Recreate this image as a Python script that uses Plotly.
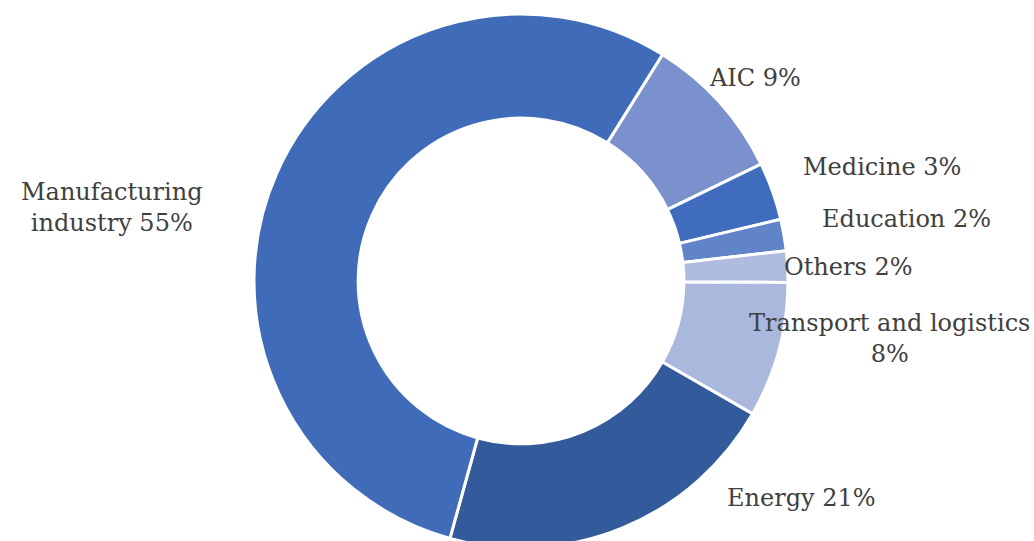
import plotly.graph_objects as go

labels = ["AIC", "Medicine", "Education", "Others", "Transport and logistics", "Energy", "Manufacturing industry"]
values = [8.9, 3.5, 1.9, 1.9, 8.2, 21.0, 54.6]
label_text = ["AIC 9%", "Medicine 3%", "Education 2%", "Others 2%",
              "Transport and logistics<br>8%", "Energy 21%", "Manufacturing<br>industry 55%"]
colors = ["#7A91CE", "#3F6CBC", "#6183C8", "#AFBBDF", "#ABB8DE", "#335A9A", "#3F6BB8"]

W, H = 1034, 553
cx, cy, r = 521, 281, 267

fig = go.Figure(go.Pie(
    labels=labels, values=values, hole=0.61, sort=False, direction="clockwise",
    rotation=32, textinfo="none", marker=dict(colors=colors, line=dict(color="white", width=3)),
    domain=dict(x=[(cx - r) / W, (cx + r) / W], y=[(H - cy - r) / H, (H - cy + r) / H]),
    showlegend=False,
))

label_pos = [(755, 78), (882, 167), (906, 219), (848, 267), (889, 338), (801, 498), (112, 208)]
for t, (x, y) in zip(label_text, label_pos):
    fig.add_annotation(text=t, x=x / W, y=1 - y / H, xref="paper", yref="paper",
                       showarrow=False, xanchor="center", yanchor="middle",
                       font=dict(family="DejaVu Serif", size=24, color="#404040"))

fig.update_layout(width=W, height=H, margin=dict(l=0, r=0, t=0, b=0),
                  paper_bgcolor="white", plot_bgcolor="white")
fig.write_html("out.html", config={"displayModeBar": False},
               post_script="document.body.style.margin='0';document.body.style.overflow='hidden';")
